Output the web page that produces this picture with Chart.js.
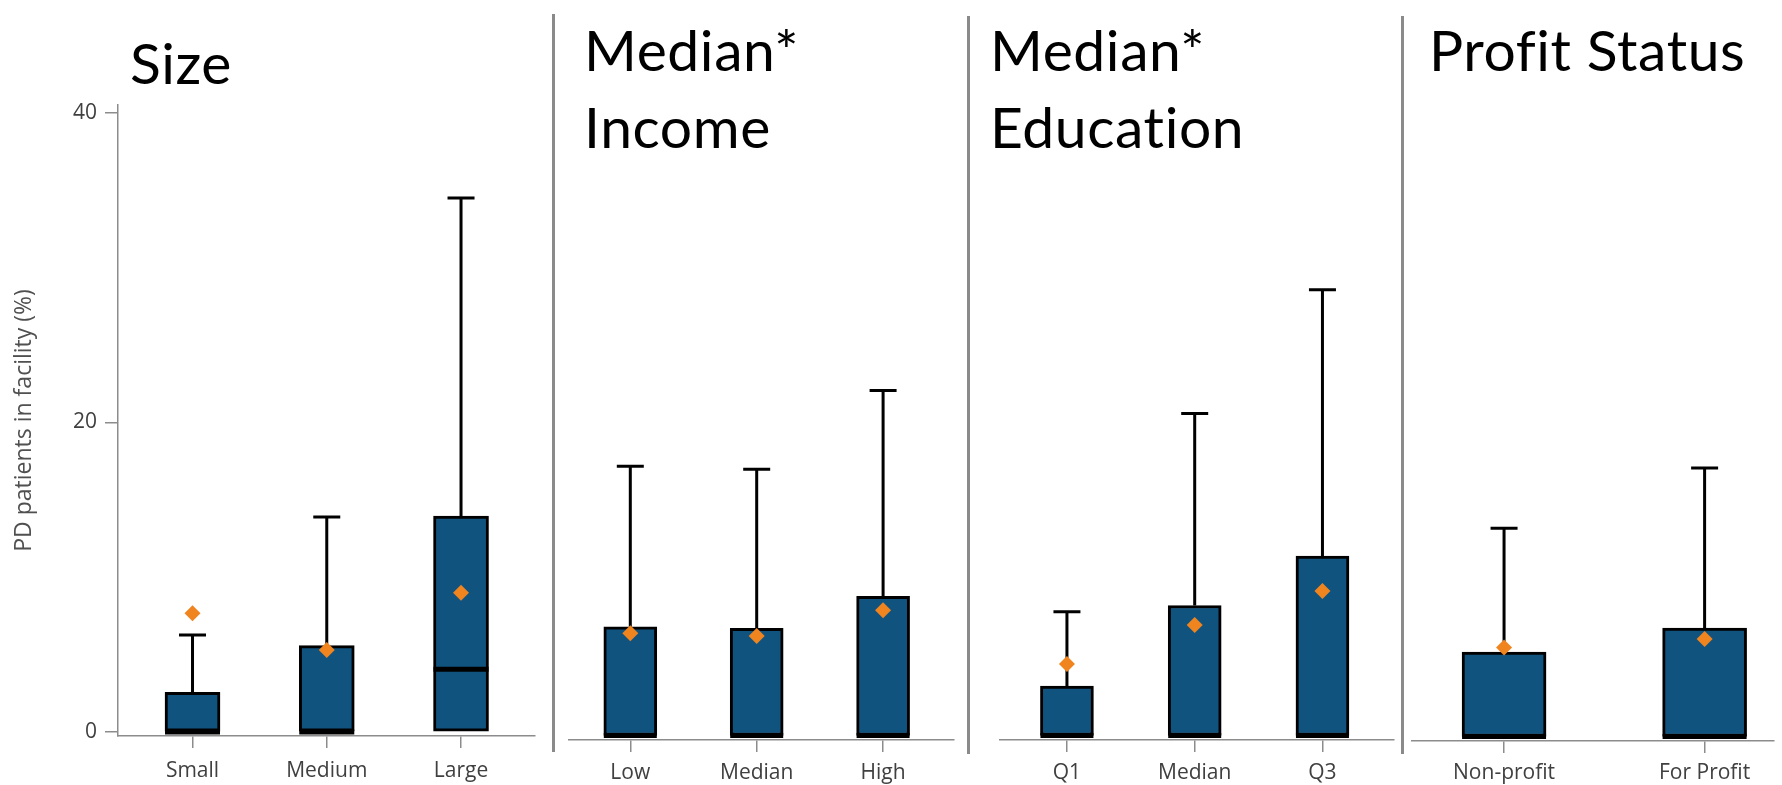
<!DOCTYPE html>
<html>
<head>
<meta charset="utf-8">
<title>PD patients in facility</title>
<script src="https://cdn.jsdelivr.net/npm/chart.js@4.4.1/dist/chart.umd.min.js"></script>
<style>
  html, body { margin: 0; padding: 0; background: #fff; }
  #wrap { position: relative; width: 1782px; height: 785px; overflow: hidden; }
  #wrap canvas { position: absolute; left: 0; top: 0; }
  .sep { position: absolute; width: 3px; background: #8a8a8a; }
</style>
</head>
<body>
<div id="wrap">
  <div class="sep" style="left:552px; top:14px; height:738px;"></div>
  <div class="sep" style="left:967px; top:16px; height:738px;"></div>
  <div class="sep" style="left:1401px; top:16px; height:738px;"></div>
</div>
<script>
'use strict';

// DATA (percent of PD patients in facility)
const yTickValues = [0, 20, 40];

const sizeCats = ['Small', 'Medium', 'Large'];
const sizeQ1 = [0, 0, 0];
const sizeMedian = [0, 0, 4.05];
const sizeQ3 = [2.57, 5.58, 13.96];
const sizeMax = [6.27, 13.9, 34.5];
const sizeMean = [7.67, 5.3, 9.0];

const incomeCats = ['Low', 'Median', 'High'];
const incomeQ1 = [0, 0, 0];
const incomeMedian = [0, 0, 0];
const incomeQ3 = [7.03, 6.93, 9.0];
const incomeMax = [17.4, 17.2, 22.3];
const incomeMean = [6.6, 6.43, 8.1];

const eduCats = ['Q1', 'Median', 'Q3'];
const eduQ1 = [0, 0, 0];
const eduMedian = [0, 0, 0];
const eduQ3 = [3.2, 8.4, 11.6];
const eduMax = [8.0, 20.8, 28.8];
const eduMean = [4.62, 7.14, 9.34];

const profitCats = ['Non-profit', 'For Profit'];
const profitQ1 = [0, 0];
const profitMedian = [0, 0];
const profitQ3 = [5.45, 7.0];
const profitMax = [13.45, 17.35];
const profitMean = [5.75, 6.3];

// STYLE / LAYOUT
const W = 1782;
const H = 785;
const PX_PER_UNIT = 15.475;
const Y_MAX = 40.52;
const BLUE = '#10537f';
const ORANGE = '#f0841f';
const AXIS = '#8c8c8c';
const TEXT = '#404040';
const TICK_FONT = { family: "'Open Sans', sans-serif", size: 21 };

let panels = [
  {
    cats: sizeCats, q1: sizeQ1, median: sizeMedian, q3: sizeQ3, max: sizeMax, mean: sizeMean,
    left: 118, right: 535, zeroY: 732, axisY: 736, xMin: -0.555, xMax: 2.551, barW: 55, labelPad: 10,
    title: ['Size'], titleX: 130, titleY: 84, showY: true
  },
  {
    cats: incomeCats, q1: incomeQ1, median: incomeMedian, q3: incomeQ3, max: incomeMax, mean: incomeMean,
    left: 569, right: 954, zeroY: 735.5, axisY: 740, xMin: -0.485, xMax: 2.561, barW: 53, labelPad: 8,
    title: ['Median*', 'Income'], titleX: 584, titleY: 71, showY: false
  },
  {
    cats: eduCats, q1: eduQ1, median: eduMedian, q3: eduQ3, max: eduMax, mean: eduMean,
    left: 1000, right: 1394, zeroY: 735.5, axisY: 740, xMin: -0.524, xMax: 2.56, barW: 53, labelPad: 8,
    title: ['Median*', 'Education'], titleX: 990, titleY: 71, showY: false
  },
  {
    cats: profitCats, q1: profitQ1, median: profitMedian, q3: profitQ3, max: profitMax, mean: profitMean,
    left: 1412, right: 1782, zeroY: 736.5, axisY: 741, xMin: -0.459, xMax: 1.346, barW: 84, labelPad: 7,
    title: ['Profit Status'], titleX: 1429, titleY: 71, showY: false
  }
];

// whiskers, caps, median lines and the panel heading
function boxExtras(p) {
  return {
    id: 'boxExtras',
    afterDatasetDraw(chart, args) {
      if (args.index !== 1) return;
      let ctx = chart.ctx;
      let x = chart.scales.x;
      let y = chart.scales.y;
      ctx.save();
      ctx.strokeStyle = '#000';
      for (let i = 0; i < p.cats.length; i++) {
        let cx = x.getPixelForValue(i);
        let yTop = y.getPixelForValue(p.max[i]);
        let yQ3 = y.getPixelForValue(p.q3[i]);
        ctx.lineWidth = 3;
        ctx.beginPath();
        ctx.moveTo(cx, yQ3);
        ctx.lineTo(cx, yTop);
        ctx.moveTo(cx - 13.5, yTop);
        ctx.lineTo(cx + 13.5, yTop);
        ctx.stroke();
        let yMed = y.getPixelForValue(p.median[i]);
        ctx.lineWidth = 5;
        ctx.beginPath();
        ctx.moveTo(cx - p.barW / 2, yMed);
        ctx.lineTo(cx + p.barW / 2, yMed);
        ctx.stroke();
      }
      ctx.restore();
    },
    afterDraw(chart) {
      let ctx = chart.ctx;
      ctx.save();
      ctx.fillStyle = '#000';
      ctx.font = "57px Lato, 'Open Sans', sans-serif";
      ctx.letterSpacing = '0.6px';
      ctx.textBaseline = 'alphabetic';
      ctx.textAlign = 'left';
      p.title.forEach((line, k) => {
        ctx.fillText(line, p.titleX, p.titleY + k * 77);
      });
      ctx.restore();
    }
  };
}

function makePanel(p) {
  let canvas = document.createElement('canvas');
  canvas.width = W;
  canvas.height = H;
  document.getElementById('wrap').appendChild(canvas);

  let idx = p.cats.map((c, i) => i);
  let yMin = -(p.axisY - p.zeroY) / PX_PER_UNIT;
  let top = p.zeroY - Y_MAX * PX_PER_UNIT;

  return new Chart(canvas, {
    type: 'bar',
    data: {
      datasets: [
        {
          type: 'scatter',
          label: 'Mean',
          data: idx.map(i => ({ x: i, y: p.mean[i] })),
          pointStyle: 'rectRot',
          pointRadius: 8,
          pointHoverRadius: 8,
          backgroundColor: ORANGE,
          borderWidth: 0
        },
        {
          type: 'bar',
          label: 'IQR',
          data: idx.map(i => ({ x: i, y: [p.q1[i], p.q3[i]] })),
          backgroundColor: BLUE,
          borderColor: '#000',
          borderWidth: 3,
          borderSkipped: false,
          barThickness: p.barW
        }
      ]
    },
    options: {
      responsive: false,
      animation: false,
      events: [],
      layout: {
        padding: { left: p.showY ? 0 : p.left, right: W - p.right, top: top, bottom: 0 }
      },
      plugins: {
        legend: { display: false },
        tooltip: { enabled: false },
        title: { display: false }
      },
      scales: {
        x: {
          type: 'linear',
          offset: false,
          min: p.xMin,
          max: p.xMax,
          afterBuildTicks: s => { s.ticks = idx.map(i => ({ value: i })); },
          afterFit: s => { s.height = H - p.axisY; },
          ticks: {
            autoSkip: false,
            maxRotation: 0,
            padding: p.labelPad,
            color: TEXT,
            font: TICK_FONT,
            callback: v => p.cats[v]
          },
          grid: { offset: false, drawOnChartArea: false, drawTicks: true, tickLength: 12, color: AXIS, lineWidth: 1.5 },
          border: { display: true, color: AXIS, width: 1.5 }
        },
        y: {
          type: 'linear',
          display: p.showY,
          min: yMin,
          max: Y_MAX,
          afterBuildTicks: s => { s.ticks = yTickValues.map(v => ({ value: v })); },
          afterFit: s => { s.width = p.showY ? p.left : 0; },
          ticks: { padding: 8, color: TEXT, font: TICK_FONT },
          grid: { drawOnChartArea: false, drawTicks: true, tickLength: 13, color: AXIS, lineWidth: 1.5 },
          border: { display: true, color: AXIS, width: 1.5 },
          title: {
            display: true,
            text: 'PD patients in facility (%)',
            color: '#505050',
            font: { family: "'Open Sans', sans-serif", size: 23 },
            padding: { top: 11, bottom: 0 }
          }
        }
      }
    },
    plugins: [boxExtras(p)]
  });
}

panels.forEach(makePanel);
</script>
</body>
</html>
